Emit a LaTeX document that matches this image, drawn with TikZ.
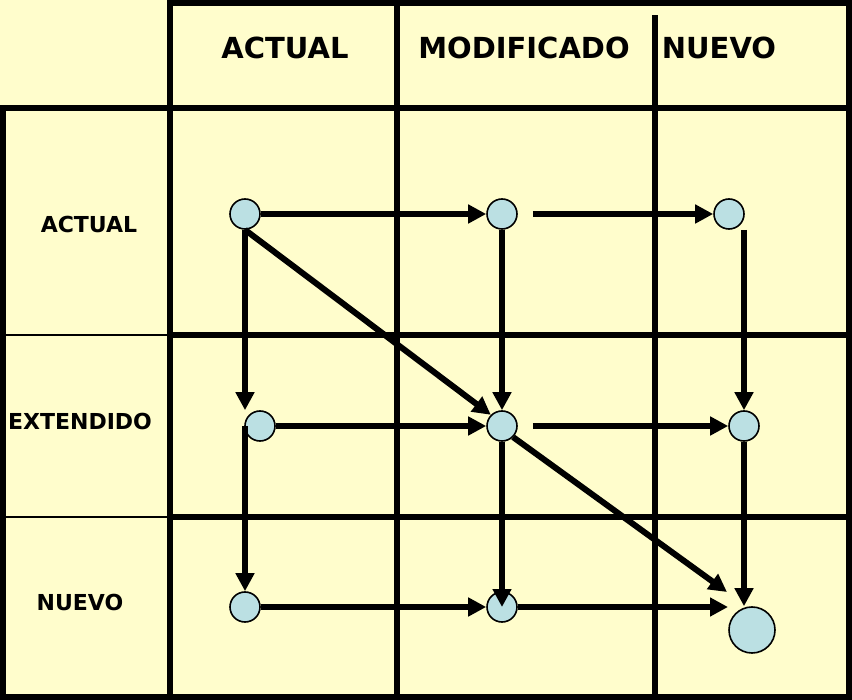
\documentclass[tikz,border=0pt]{standalone}
\usepackage{fontspec}
\setmainfont{DejaVu Sans}
\usepackage{tikz}
\usetikzlibrary{positioning, arrows.meta, calc}

\definecolor{paper}{RGB}{255,253,204}
\definecolor{dotblue}{RGB}{187,224,227}

\begin{document}
\begin{tikzpicture}[
    x=1pt, y=-1pt,
    gridline/.style={line width=6pt, line cap=rect},
    thinline/.style={line width=2pt},
    dot/.style={circle, draw=black, line width=1.6pt, fill=dotblue,
                minimum size=30pt, inner sep=0pt},
    bigdot/.style={dot, minimum size=46pt},
    head/.style={font=\fontsize{29}{34}\selectfont\bfseries},
    rowlabel/.style={font=\fontsize{22}{26}\selectfont\bfseries},
    arrow/.style={-{Triangle[length=18pt, width=18pt]}, line width=6pt}
]

    % Background
    \fill[paper] (0,0) rectangle (852,700);
    \useasboundingbox (0,0) rectangle (852,700);

    % Grid
    \draw[gridline] (170,3) -- (849,3) -- (849,697) -- (3,697) -- (3,108) -- (849,108);
    \draw[gridline] (170,0) -- (170,697);
    \draw[gridline] (397,3) -- (397,697);
    \draw[gridline] (655,18) -- (655,697);
    \draw[thinline] (3,335) -- (170,335);
    \draw[thinline] (3,517) -- (170,517);
    \draw[gridline] (170,335) -- (849,335);
    \draw[gridline] (170,517) -- (849,517);

    % Column headers
    \node[head] (hactual) at (285,48) {ACTUAL};
    \node[head] (hmodif) at (524,48) {MODIFICADO};
    \node[head] (hnuevo) at (719,48) {NUEVO};

    % Row labels
    \node[rowlabel] (ractual) at (89,224) {ACTUAL};
    \node[rowlabel] (rext) at (80,421) {EXTENDIDO};
    \node[rowlabel] (rnuevo) at (80,602) {NUEVO};

    % Row 1
    \node[dot] (a1) at (245,214) {};
    \node[dot] (a2) at (502,214) {};
    \node[dot] (a3) at (729,214) {};

    % Row 2
    \node[dot] (b1) at (260,426) {};
    \node[dot] (b2) at (502,426) {};
    \node[dot] (b3) at (744,426) {};

    % Row 3
    \node[dot] (c1) at (245,607) {};
    \node[dot] (c2) at (502,607) {};
    \node[bigdot] (c3) at (752,630) {};

    % Arrows
    \draw[arrow] (a1) -- (a2);
    \draw[arrow, shorten <=15pt] (a2) -- (a3);
    \draw[arrow] (a1.south) -- (a1.south |- b1.north);
    \draw[arrow] (a1.south) -- (b2.north west);
    \draw[arrow] (a2) -- (b2);
    \draw[arrow] (a3.south -| b3.north) -- (b3.north);

    \draw[arrow] (b1) -- (b2);
    \draw[arrow, shorten <=15pt] (b2) -- (b3);
    \draw[arrow] (b1.west -| c1.north) -- (c1.north);
    \draw[arrow] (b2.south) -- (c2.center);
    \draw[arrow] (b2.south east) -- ([xshift=-25pt, yshift=38pt]c3.center);
    \draw[arrow] (b3.south) -- (b3.south |- c3.north);

    \draw[arrow] (c1) -- (c2);
    \draw[arrow] (c2.east) -- ([xshift=-24pt]c3.center |- c2);

\end{tikzpicture}
\end{document}
